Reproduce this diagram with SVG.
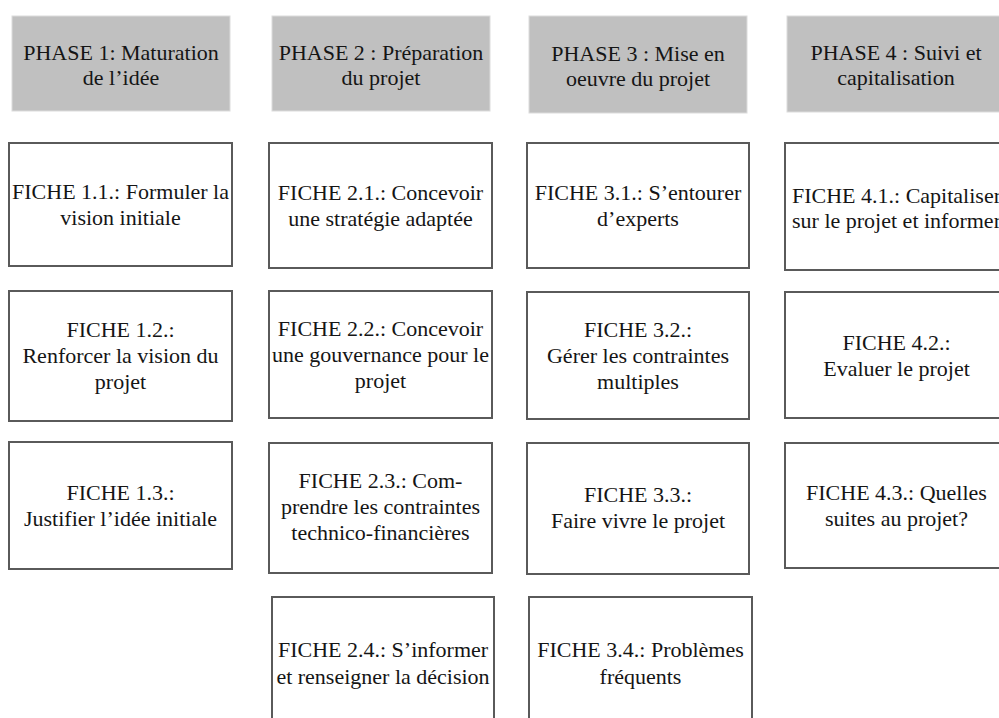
<svg xmlns="http://www.w3.org/2000/svg" width="999" height="718" viewBox="0 0 999 718">
<style>
  .phase { fill: #c0c0c0; stroke: #dcdcdc; stroke-width: 1; }
  .fiche { fill: #ffffff; stroke: #5a5a5a; stroke-width: 2; }
  .t { font-family: 'Liberation Serif', 'DejaVu Serif', serif; font-size: 22px; fill: #151515; text-anchor: middle; }
</style>
<rect width="999" height="718" fill="#ffffff"/>
<g id="connectors"></g>

<g id="phase1">
  <rect class="phase" x="12" y="16" width="218" height="95"/>
  <text class="t" x="121" y="60">PHASE 1: Maturation</text>
  <text class="t" x="121" y="85">de l’idée</text>
</g>
<g id="phase2">
  <rect class="phase" x="272" y="16" width="218" height="95"/>
  <text class="t" x="381" y="60">PHASE 2 : Préparation</text>
  <text class="t" x="381" y="85">du projet</text>
</g>
<g id="phase3">
  <rect class="phase" x="529" y="16" width="218" height="97"/>
  <text class="t" x="638" y="61">PHASE 3 : Mise en</text>
  <text class="t" x="638" y="86">oeuvre du projet</text>
</g>
<g id="phase4">
  <rect class="phase" x="787" y="16" width="218" height="96"/>
  <text class="t" x="896" y="60">PHASE 4 : Suivi et</text>
  <text class="t" x="896" y="85">capitalisation</text>
</g>

<g id="fiche11">
  <rect class="fiche" x="9" y="143" width="223" height="123"/>
  <text class="t" x="120.5" y="199">FICHE 1.1.: Formuler la</text>
  <text class="t" x="120.5" y="225">vision initiale</text>
</g>
<g id="fiche21">
  <rect class="fiche" x="269" y="143" width="223" height="125"/>
  <text class="t" x="380.5" y="200">FICHE 2.1.: Concevoir</text>
  <text class="t" x="380.5" y="226">une stratégie adaptée</text>
</g>
<g id="fiche31">
  <rect class="fiche" x="527" y="143" width="222" height="125"/>
  <text class="t" x="638" y="200">FICHE 3.1.: S’entourer</text>
  <text class="t" x="638" y="226">d’experts</text>
</g>
<g id="fiche41">
  <rect class="fiche" x="785" y="143" width="223" height="127"/>
  <text class="t" x="896.5" y="203">FICHE 4.1.: Capitaliser</text>
  <text class="t" x="896.5" y="228">sur le projet et informer</text>
</g>

<g id="fiche12">
  <rect class="fiche" x="9" y="291" width="223" height="130"/>
  <text class="t" x="120.5" y="337">FICHE 1.2.:</text>
  <text class="t" x="120.5" y="363">Renforcer la vision du</text>
  <text class="t" x="120.5" y="389">projet</text>
</g>
<g id="fiche22">
  <rect class="fiche" x="269" y="291" width="223" height="127"/>
  <text class="t" x="380.5" y="336">FICHE 2.2.: Concevoir</text>
  <text class="t" x="380.5" y="362">une gouvernance pour le</text>
  <text class="t" x="380.5" y="388">projet</text>
</g>
<g id="fiche32">
  <rect class="fiche" x="527" y="292" width="222" height="127"/>
  <text class="t" x="638" y="337">FICHE 3.2.:</text>
  <text class="t" x="638" y="363">Gérer les contraintes</text>
  <text class="t" x="638" y="389">multiples</text>
</g>
<g id="fiche42">
  <rect class="fiche" x="785" y="292" width="223" height="126"/>
  <text class="t" x="896.5" y="350">FICHE 4.2.:</text>
  <text class="t" x="896.5" y="376">Evaluer le projet</text>
</g>

<g id="fiche13">
  <rect class="fiche" x="9" y="442" width="223" height="127"/>
  <text class="t" x="120.5" y="500">FICHE 1.3.:</text>
  <text class="t" x="120.5" y="526">Justifier l’idée initiale</text>
</g>
<g id="fiche23">
  <rect class="fiche" x="269" y="443" width="223" height="130"/>
  <text class="t" x="380.5" y="488">FICHE 2.3.: Com-</text>
  <text class="t" x="380.5" y="514">prendre les contraintes</text>
  <text class="t" x="380.5" y="540">technico-financières</text>
</g>
<g id="fiche33">
  <rect class="fiche" x="527" y="443" width="222" height="131"/>
  <text class="t" x="638" y="502">FICHE 3.3.:</text>
  <text class="t" x="638" y="528">Faire vivre le projet</text>
</g>
<g id="fiche43">
  <rect class="fiche" x="785" y="443" width="223" height="125"/>
  <text class="t" x="896.5" y="500">FICHE 4.3.: Quelles</text>
  <text class="t" x="896.5" y="526">suites au projet?</text>
</g>

<g id="fiche24">
  <rect class="fiche" x="272" y="597" width="222" height="135"/>
  <text class="t" x="383" y="657">FICHE 2.4.: S’informer</text>
  <text class="t" x="383" y="684">et renseigner la décision</text>
</g>
<g id="fiche34">
  <rect class="fiche" x="529" y="597" width="223" height="135"/>
  <text class="t" x="640.5" y="657">FICHE 3.4.: Problèmes</text>
  <text class="t" x="640.5" y="684">fréquents</text>
</g>
</svg>
